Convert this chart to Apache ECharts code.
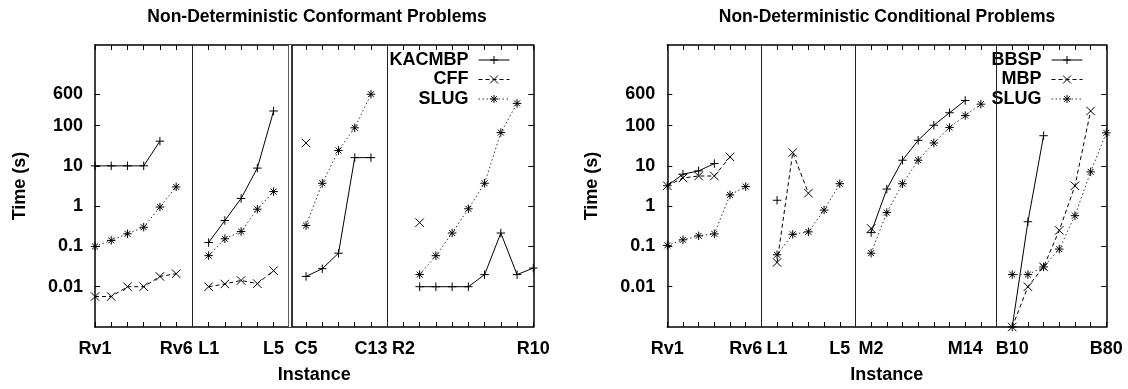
<!DOCTYPE html>
<html><head><meta charset="utf-8">
<script src="https://cdn.jsdelivr.net/npm/echarts@6/dist/echarts.min.js"></script>
<style>html,body{margin:0;padding:0;background:#fff}#c{width:1128px;height:389px}</style>
</head><body><div id="c"></div>
<script>
// ---------- data ----------
const conformantTitle = 'Non-Deterministic Conformant Problems';
const conditionalTitle = 'Non-Deterministic Conditional Problems';
const yAxisName = 'Time (s)';
const xAxisName = 'Instance';
const timeTicks = [0.01, 0.1, 1, 10, 100, 600];

const conformantInstances = ['Rv1','Rv2','Rv3','Rv4','Rv5','Rv6','sep1','L1','L2','L3','L4','L5','sep2','C5','C7','C9','C11','C13','sep3','R2','R3','R4','R5','R6','R7','R8','R9','R10'];
const conformantLabels = ['Rv1','Rv6','L1','L5','C5','C13','R2','R10'];
const conformantDoubleSeps = ['sep2'];
const conformantNames = ['KACMBP','CFF','SLUG'];
const kacmbp = [10,10,10,10,41,null, null, 0.125,0.44,1.55,8.8,230, null, 0.018,0.028,0.068,16,16, null, null,0.01,0.01,0.01,0.01,0.02,0.215,0.02,0.029];
const cff = [0.0057,0.0057,0.01,0.01,0.018,0.021, null, 0.01,0.0117,0.0143,0.0119,0.025, null, 37,null,null,null,null, null, null,0.39,null,null,null,null,null,null,null];
const slugConformant = [0.1,0.141,0.206,0.30,0.95,3.0, null, 0.059,0.155,0.235,0.84,2.3, null, 0.33,3.7,24,88,600, null, null,0.02,0.059,0.215,0.86,3.7,67,355,null];

const conditionalInstances = ['Rv1','Rv2','Rv3','Rv4','Rv5','Rv6','sep1','L1','L2','L3','L4','L5','sep2','M2','M4','M6','M8','M10','M12','M14','M16','sep3','B10','B20','B30','B40','B50','B60','B80'];
const conditionalLabels = ['Rv1','Rv6','L1','L5','M2','M14','B10','B80'];
const conditionalDoubleSeps = [];
const conditionalNames = ['BBSP','MBP','SLUG'];
const bbsp = [3.2,6.2,7.5,11.4,null,null, null, 1.4,null,null,null,null, null, 0.22,2.65,13.8,43,102,208,420,null, null, 0.001,0.41,56,null,null,null,null];
const mbp = [3.2,5.0,5.6,5.6,16.7,null, null, 0.04,21.4,2.1,null,null, null, 0.28,null,null,null,null,null,null,null, null, 0.001,0.01,0.031,0.25,3.2,230,null];
const slugConditional = [0.106,0.146,0.183,0.205,1.9,3.06, null, 0.062,0.2,0.23,0.8,3.6, null, 0.068,0.69,3.6,13.8,37,90,177,340, null, 0.02,0.02,0.031,0.086,0.58,7.1,66];

// ---------- styles ----------
const FONT = 'Liberation Sans';
const FS = 18;
const FW = 'bold';
const plusPath = 'path://M5,0L5,10M0,5L10,5';
const crossPath = 'path://M0,0L10,10M10,0L0,10';
const starPath = 'path://M5,0L5,10M0,5L10,5M1.5,1.5L8.5,8.5M8.5,1.5L1.5,8.5';
const markers = [plusPath, crossPath, starPath];
const dashes = ['solid', [4, 3], [1.5, 2.5]];

const grids = [
  {left: 95, right: 594.7, top: 45, bottom: 61.7},
  {left: 667.3, right: 21.7, top: 45, bottom: 61.7}
];

function fmtTime(v) {
  if (v >= 1) return String(Math.round(v));
  return String(+Number(v).toPrecision(1));
}

function xAxes(gi, cats, shown) {
  const base = {
    type: 'category', gridIndex: gi, data: cats, boundaryGap: false,
    axisLine: {show: true, onZero: false, lineStyle: {color: '#000', width: 1.5}},
    axisTick: {show: true, inside: true, length: 5, interval: 0, lineStyle: {color: '#000', width: 1}},
    splitLine: {show: false}
  };
  return [
    Object.assign({}, base, {
      position: 'bottom',
      axisLabel: {show: true, interval: 0, margin: 13, fontFamily: FONT, fontSize: FS, fontWeight: FW, color: '#000',
        formatter: v => shown.includes(v) ? v : ''},
      name: xAxisName, nameLocation: 'middle', nameGap: 39,
      nameTextStyle: {fontFamily: FONT, fontSize: FS, fontWeight: FW, color: '#000'}
    }),
    Object.assign({}, base, {position: 'top', axisLabel: {show: false}})
  ];
}

function yAxes(gi) {
  const base = {
    type: 'log', logBase: 10, min: 0.001, max: 10000, gridIndex: gi,
    axisLine: {show: true, onZero: false, lineStyle: {color: '#000', width: 1.5}},
    axisTick: {show: true, inside: true, length: 5, customValues: timeTicks, lineStyle: {color: '#000', width: 1}},
    splitLine: {show: false}, minorTick: {show: false}
  };
  return [
    Object.assign({}, base, {
      position: 'left',
      axisLabel: {show: true, customValues: timeTicks, margin: 12, fontFamily: FONT, fontSize: FS, fontWeight: FW, color: '#000', formatter: fmtTime},
      name: yAxisName, nameLocation: 'middle', nameGap: 66, nameRotate: 90,
      nameTextStyle: {fontFamily: FONT, fontSize: FS, fontWeight: FW, color: '#000'}
    }),
    Object.assign({}, base, {position: 'right', axisLabel: {show: false}})
  ];
}

function sepMarkLine(cats, doubles) {
  const data = [];
  cats.forEach(c => {
    if (c.indexOf('sep') !== 0) return;
    if (doubles.includes(c)) {
      data.push({xAxis: c, lineStyle: {color: '#000', width: 4.6, type: 'solid'}});
      data.push({xAxis: c, lineStyle: {color: '#fff', width: 2.4, type: 'solid'}});
    } else {
      data.push({xAxis: c, lineStyle: {color: '#222', width: 1, type: 'solid'}});
    }
  });
  return {silent: true, symbol: ['none', 'none'], label: {show: false}, animation: false,
    emphasis: {disabled: true}, data};
}

function makeSeries(gi, names, arrays, cats, doubles) {
  return arrays.map((arr, k) => {
    const s = {
      type: 'line', name: names[k], xAxisIndex: gi * 2, yAxisIndex: gi * 2, data: arr,
      symbol: markers[k], symbolSize: 8.5, showSymbol: true, showAllSymbol: true,
      connectNulls: false,
      lineStyle: {color: k === 2 ? '#333' : '#000', width: 1, type: dashes[k]},
      itemStyle: {color: '#000', borderColor: '#000', borderWidth: 1},
      emphasis: {disabled: true}, animation: false, z: 3
    };
    if (k === 0) s.markLine = sepMarkLine(cats, doubles);
    return s;
  });
}

function legend(names, right) {
  return {
    data: names, orient: 'vertical', align: 'right', right: right, top: 46,
    itemWidth: 31, itemHeight: 10, itemGap: 1.5, selectedMode: false,
    itemStyle: {borderWidth: 1, color: '#000', borderColor: '#000'},
    lineStyle: {width: 1},
    textStyle: {fontFamily: FONT, fontSize: FS, fontWeight: FW, color: '#000', lineHeight: 18, padding: [0, 5, 0, 0]}
  };
}

const option = {
  backgroundColor: '#fff',
  animation: false,
  title: [
    {text: conformantTitle, left: 312, top: 3, textAlign: 'center',
      textStyle: {fontFamily: FONT, fontSize: 17.5, fontWeight: FW, color: '#000'}},
    {text: conditionalTitle, left: 882, top: 3, textAlign: 'center',
      textStyle: {fontFamily: FONT, fontSize: 17.5, fontWeight: FW, color: '#000'}}
  ],
  legend: [legend(conformantNames, 613), legend(conditionalNames, 40)],
  grid: grids,
  xAxis: [...xAxes(0, conformantInstances, conformantLabels), ...xAxes(1, conditionalInstances, conditionalLabels)],
  yAxis: [...yAxes(0), ...yAxes(1)],
  series: [
    ...makeSeries(0, conformantNames, [kacmbp, cff, slugConformant], conformantInstances, conformantDoubleSeps),
    ...makeSeries(1, conditionalNames, [bbsp, mbp, slugConditional], conditionalInstances, conditionalDoubleSeps)
  ]
};

const chart = echarts.init(document.getElementById('c'), null, {renderer: 'canvas'});
chart.setOption(option);
</script>
</body></html>
